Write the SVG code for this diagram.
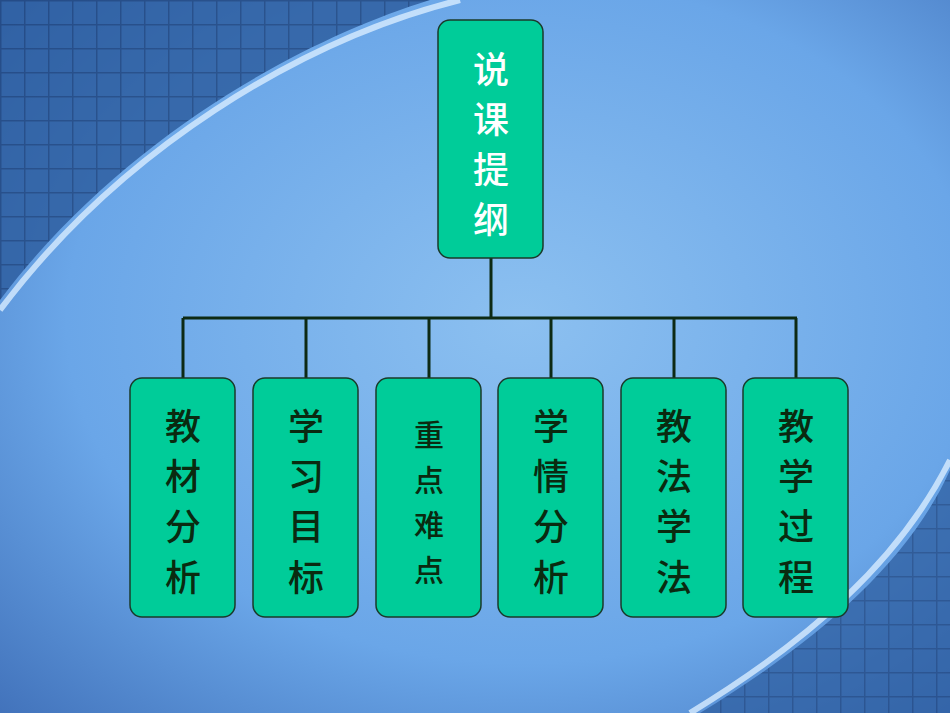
<svg xmlns="http://www.w3.org/2000/svg" width="950" height="713" viewBox="0 0 950 713">
<defs>
<style>
.n{fill:#00CC99;stroke:#1a3a2a;stroke-width:1.5}
.t{font-family:"Noto Sans CJK SC",sans-serif;font-size:36px;text-anchor:middle;fill:#0a2a10;font-weight:500}
.w{fill:#ffffff}
.c{stroke:#0d2a14;stroke-width:3;fill:none}
</style>
<radialGradient id="bg" cx="0.55" cy="0.45" r="0.8">
<stop offset="0" stop-color="#8cc0f0"/><stop offset="0.6" stop-color="#6aa6e8"/><stop offset="1" stop-color="#3f6fb8"/>
</radialGradient>
<pattern id="grid" width="24" height="24" patternUnits="userSpaceOnUse">
<rect width="24" height="24" fill="#2a5a9c"/><path d="M0 0H24M0 0V24" stroke="#1b3f78" stroke-width="3"/>
</pattern>
</defs>
<rect width="950" height="713" fill="url(#bg)"/>
<path d="M0 0H430C300 40 120 140 0 300Z" fill="url(#grid)" opacity="0.8"/>
<path d="M0 310C120 150 300 40 460 0" stroke="#d8ecff" stroke-width="6" fill="none" opacity="0.8"/>
<path d="M700 713C820 640 910 560 950 470V713Z" fill="url(#grid)" opacity="0.7"/>
<path d="M690 713C810 640 900 560 950 460" stroke="#d8ecff" stroke-width="6" fill="none" opacity="0.8"/>
<g id="connectors">
<path class="c" d="M491 258V318M183 318H797M183 318V378M306 318V378M429 318V378M551 318V378M674 318V378M796 318V378"/>
</g>
<g id="root"><rect class="n" x="438" y="20" width="105" height="238" rx="12"/>
<text class="t w" x="491" y="83">说</text><text class="t w" x="491" y="133">课</text><text class="t w" x="491" y="183">提</text><text class="t w" x="491" y="233">纲</text></g>
<g id="n1"><rect class="n" x="130" y="378" width="105" height="239" rx="12"/>
<text class="t" x="183" y="440">教</text><text class="t" x="183" y="490">材</text><text class="t" x="183" y="540">分</text><text class="t" x="183" y="591">析</text></g>
<g id="n2"><rect class="n" x="253" y="378" width="105" height="239" rx="12"/>
<text class="t" x="306" y="440">学</text><text class="t" x="306" y="490">习</text><text class="t" x="306" y="540">目</text><text class="t" x="306" y="591">标</text></g>
<g id="n3"><rect class="n" x="376" y="378" width="105" height="239" rx="12"/>
<text class="t" style="font-size:30px" x="429" y="446">重</text><text class="t" style="font-size:30px" x="429" y="491">点</text><text class="t" style="font-size:30px" x="429" y="536">难</text><text class="t" style="font-size:30px" x="429" y="581">点</text></g>
<g id="n4"><rect class="n" x="498" y="378" width="105" height="239" rx="12"/>
<text class="t" x="551" y="440">学</text><text class="t" x="551" y="490">情</text><text class="t" x="551" y="540">分</text><text class="t" x="551" y="591">析</text></g>
<g id="n5"><rect class="n" x="621" y="378" width="105" height="239" rx="12"/>
<text class="t" x="674" y="440">教</text><text class="t" x="674" y="490">法</text><text class="t" x="674" y="540">学</text><text class="t" x="674" y="591">法</text></g>
<g id="n6"><rect class="n" x="743" y="378" width="105" height="239" rx="12"/>
<text class="t" x="796" y="440">教</text><text class="t" x="796" y="490">学</text><text class="t" x="796" y="540">过</text><text class="t" x="796" y="591">程</text></g>
</svg>
